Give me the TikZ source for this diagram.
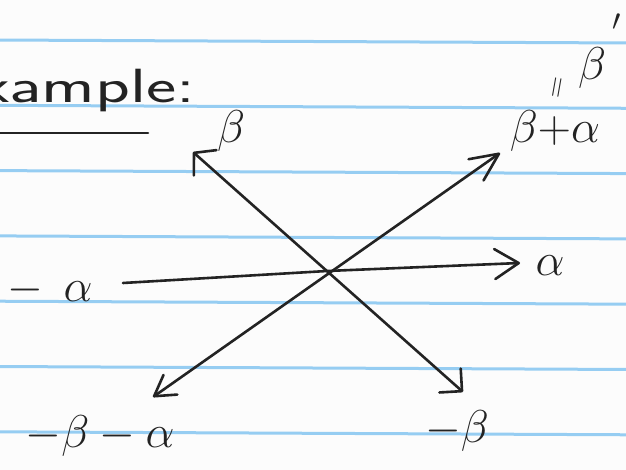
\RequirePackage{fix-cm}
\documentclass[tikz,border=0pt]{standalone}
\usetikzlibrary{arrows.meta}
\definecolor{ink}{RGB}{35,35,35}
\definecolor{rulecol}{RGB}{150,205,242}
\definecolor{paper}{RGB}{252,252,252}
\begin{document}
\begin{tikzpicture}[x=1pt,y=-1pt,
  ruling/.style={draw=rulecol,line width=3pt},
  pen/.style={draw=ink,line width=2.6pt,line cap=round,line join=round},
  lab/.style={text=ink,inner sep=0pt,anchor=base,font=\fontsize{46}{50}\selectfont},
  head/.style={text=ink,inner sep=0pt,anchor=base west,font=\fontsize{48}{52}\selectfont\sffamily}
]
\fill[paper] (0,0) rectangle (626,470);
\useasboundingbox (0,0) rectangle (626,470);
\clip (0,0) rectangle (626,470);
% ruled paper
\foreach \i in {0,...,6}
  \draw[ruling] (-5,{40+65.3*\i}) -- (631,{43+65.3*\i});
% heading
\node[head,xscale=1.5] (title) at (-22,103) {xample:};
\coordinate (ulA) at (-3,133);
\coordinate (ulB) at (148,133);
\draw[pen] (ulA) -- (ulB);
% points
\coordinate (O) at (327,271);
\coordinate (tB) at (193,152);
\coordinate (tmB) at (463,392);
\coordinate (tBA) at (500,153);
\coordinate (tmBA) at (153,397);
\coordinate (tA) at (520,263);
\coordinate (sA) at (123,283);
% labels
\node[lab] (lB) at (231,143) {$\beta$};
\node[lab] (lBA) at (555,143) {$\beta{+}\alpha$};
\node[lab] (lA) at (550,276) {$\alpha$};
\node[lab] (lmA) at (50,301) {${-}\;\,\alpha$};
\node[lab] (lmB) at (457,442) {$-\beta$};
\node[lab] (lmBA) at (100,447) {$-\beta-\alpha$};
\node[lab] (lBp) at (592,80) {$\beta$};
\node[text=ink,inner sep=0pt,font=\fontsize{30}{30}\selectfont] (prime) at (617,22) {$\prime$};
\node[text=ink,inner sep=0pt,rotate=80,font=\fontsize{30}{30}\selectfont] (eq) at (559,88) {$=$};
% arrows
\draw[pen,{Straight Barb[length=15pt,width=34pt,round]}-{Straight Barb[length=16pt,width=32pt,round]}] (tB) -- (tmB);
\draw[pen,{Straight Barb[length=20pt,width=24pt,round]}-{Straight Barb[length=28pt,width=26pt,round]}] (tmBA) -- (tBA);
\draw[pen,-{Straight Barb[length=24pt,width=30pt,round]}] (sA) -- (O) -- (tA);
\end{tikzpicture}
\end{document}
